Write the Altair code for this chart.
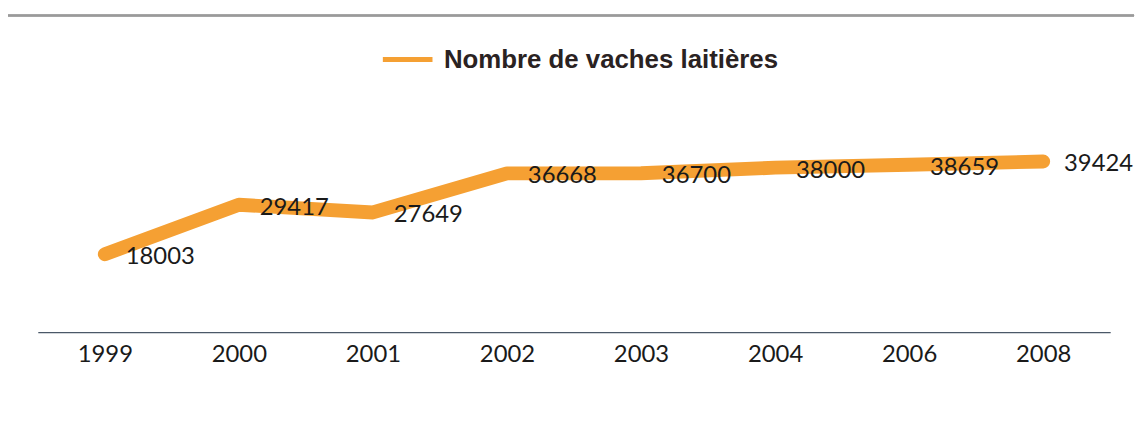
import altair as alt
import pandas as pd

years = ["1999", "2000", "2001", "2002", "2003", "2004", "2006", "2008"]
cows = [18003, 29417, 27649, 36668, 36700, 38000, 38659, 39424]
series = ["Nombre de vaches laitières"] * len(years)

df = pd.DataFrame({"year": years, "cows": cows, "series": series})

x = alt.X("year:O", sort=years, title=None,
          scale=alt.Scale(type="point", padding=0.5),
          axis=alt.Axis(labelAngle=0, ticks=False, labelPadding=11,
                        labelFont="Lato", labelFontSize=24, labelColor="#1a1a1a",
                        domainColor="#4a5868", domainWidth=1.2, grid=False))
y = alt.Y("cows:Q", title=None, axis=None, scale=alt.Scale(domain=[0, 50000]))

line = alt.Chart(df).mark_line(strokeWidth=14, strokeCap="round", strokeJoin="round").encode(
    x=x, y=y,
    color=alt.Color("series:N", title=None,
                    scale=alt.Scale(range=["#F5A033"]),
                    legend=alt.Legend(orient="none", legendX=345, legendY=-84,
                                      symbolType="stroke", symbolSize=2500,
                                      symbolStrokeWidth=5, labelFont="Liberation Sans",
                                      labelFontWeight="bold", labelFontSize=26,
                                      labelColor="#2a2222", labelLimit=700,
                                      labelOffset=9))
)

labels = alt.Chart(df).mark_text(align="left", baseline="middle", dx=21, dy=3,
                                  font="Lato", fontSize=24, color="#1a1a1a").encode(
    x=alt.X("year:O", sort=years), y="cows:Q", text="cows:Q"
)

frame_top = alt.Chart(df).mark_rule(color="#9a9a9a", strokeWidth=1.5).encode(
    x=alt.value(-33), x2=alt.value(1104), y=alt.value(-101)
)
frame_left = alt.Chart(df).mark_rule(color="#a8a8a8", strokeWidth=1.5).encode(
    x=alt.value(-32), y=alt.value(-101), y2=alt.value(300)
)

chart = alt.layer(frame_top, frame_left, line, labels).properties(
    width=1080, height=218,
    autosize=alt.AutoSizeParams(type="none"),
    padding={"left": 30, "top": 107, "right": 28, "bottom": 80},
).configure(background="white").configure_view(stroke=None)

chart.save("out.html", embed_options={"renderer": "svg", "actions": False})
